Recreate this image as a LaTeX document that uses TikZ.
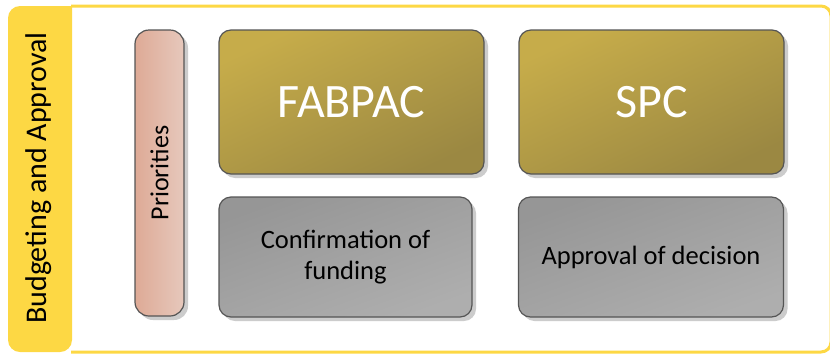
\documentclass[tikz,border=0pt]{standalone}
\usepackage{fontspec}
\setmainfont{Carlito}
\usetikzlibrary{shadows}
\definecolor{bandyellow}{RGB}{253,216,68}
\definecolor{boxline}{RGB}{85,85,85}
\definecolor{goldA}{RGB}{198,172,74}
\definecolor{goldB}{RGB}{155,136,66}
\definecolor{greyA}{RGB}{150,150,150}
\definecolor{greyB}{RGB}{174,174,174}
\definecolor{pinkA}{RGB}{222,170,150}
\definecolor{pinkB}{RGB}{230,200,188}
\tikzset{
  basebox/.style={draw=boxline, line width=1.2pt, rounded corners=12pt,
    inner sep=0pt, outer sep=0pt, align=center,
    drop shadow={shadow xshift=4pt, shadow yshift=-4pt, fill=black!20, opacity=1}},
  goldbox/.style={basebox, top color=goldA, bottom color=goldB, shading angle=25,
    minimum width=265pt, minimum height=144pt, text=white, font=\fontsize{48}{52}\selectfont},
  greybox/.style={basebox, top color=greyA, bottom color=greyB, shading angle=20,
    minimum height=120pt, text=black, font=\fontsize{26.5}{31}\selectfont},
  pillbox/.style={basebox, rounded corners=14pt, left color=pinkA, right color=pinkB,
    minimum width=49pt, minimum height=286pt},
}
\begin{document}
\begin{tikzpicture}[x=1pt,y=-1pt]
\useasboundingbox (0,0) rectangle (830,354);
\begin{scope}
\clip (0,0) rectangle (830,354);
\fill[white] (71,6) rectangle (836,352);
\draw[bandyellow, line width=3pt, rounded corners=10pt] (71,6) -- (831,6) -- (831,352) -- (71,352);
\fill[bandyellow, rounded corners=12pt] (72,6) -- (8,6) -- (8,352) -- (72,352) [sharp corners] -- cycle;
\end{scope}
\node[rotate=90, font=\fontsize{30}{34}\selectfont] (title) at (39,178) {Budgeting and Approval};
\node[pillbox] (prio) at (159.5,173) {};
\node[rotate=90, font=\fontsize{26}{30}\selectfont] (priotext) at (prio.center) {Priorities};
\node[goldbox] (fab) at (351.5,102) {FABPAC};
\node[goldbox] (spc) at (651.5,102) {SPC};
\node[greybox, minimum width=253pt] (conf) at (345.5,257) {Confirmation of\\funding};
\node[greybox, minimum width=265pt] (appr) at (651,257) {Approval of decision};
\end{tikzpicture}
\end{document}
